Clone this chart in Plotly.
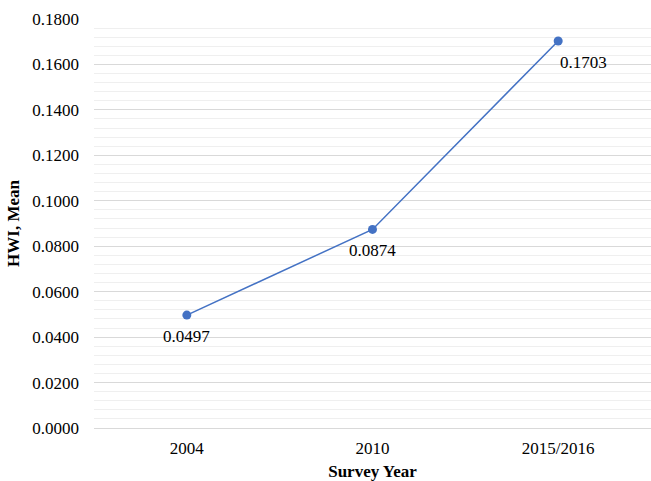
import plotly.graph_objects as go

# Survey rounds and mean HWI values
survey_years = ["2004", "2010", "2015/2016"]
hwi_mean = [0.0497, 0.0874, 0.1703]
value_labels = ["0.0497", "0.0874", "0.1703"]

# label offsets (pixels) relative to each point
label_dx = [0, 0, 25]
label_dy = [-21, -21, -21]

blue = "#4472C4"
serif = "Liberation Serif"

fig = go.Figure()
fig.add_trace(go.Scatter(
    x=survey_years,
    y=hwi_mean,
    mode="lines+markers",
    line=dict(color=blue, width=1.5),
    marker=dict(color=blue, size=9),
    showlegend=False,
    cliponaxis=False,
))

# on a category axis, annotations are placed by category index
for idx, (yv, txt, dx, dy) in enumerate(zip(hwi_mean, value_labels, label_dx, label_dy)):
    fig.add_annotation(
        x=idx, y=yv, xref="x", yref="y", text=txt, showarrow=False,
        xshift=dx, yshift=dy,
        font=dict(family=serif, size=17, color="#000000"),
    )

fig.update_layout(
    width=651, height=481,
    margin=dict(l=94, r=0, t=19, b=53),
    paper_bgcolor="white",
    plot_bgcolor="white",
    font=dict(family=serif, size=17, color="#000000"),
)

fig.update_xaxes(
    type="category",
    categoryorder="array",
    categoryarray=survey_years,
    range=[-0.5, len(survey_years) - 0.5],
    showgrid=False,
    showline=False,
    zeroline=False,
    ticks="",
    ticklabelstandoff=8,
    tickfont=dict(family=serif, size=17),
    title=dict(text="<b>Survey Year</b>", font=dict(family=serif, size=17), standoff=9),
)

fig.update_yaxes(
    range=[0, 0.18],
    dtick=0.02,
    tickformat=".4f",
    showgrid=True,
    gridcolor="#d9d9d9",
    gridwidth=1,
    zeroline=True,
    zerolinecolor="#d9d9d9",
    zerolinewidth=1,
    showline=False,
    ticks="",
    ticklabelstandoff=14,
    tickfont=dict(family=serif, size=17),
    minor=dict(dtick=0.004, showgrid=True, gridcolor="#efefef", gridwidth=1),
    title=dict(text="<b>HWI, Mean</b>", font=dict(family=serif, size=17), standoff=8),
)

fig.write_html("out.html")
